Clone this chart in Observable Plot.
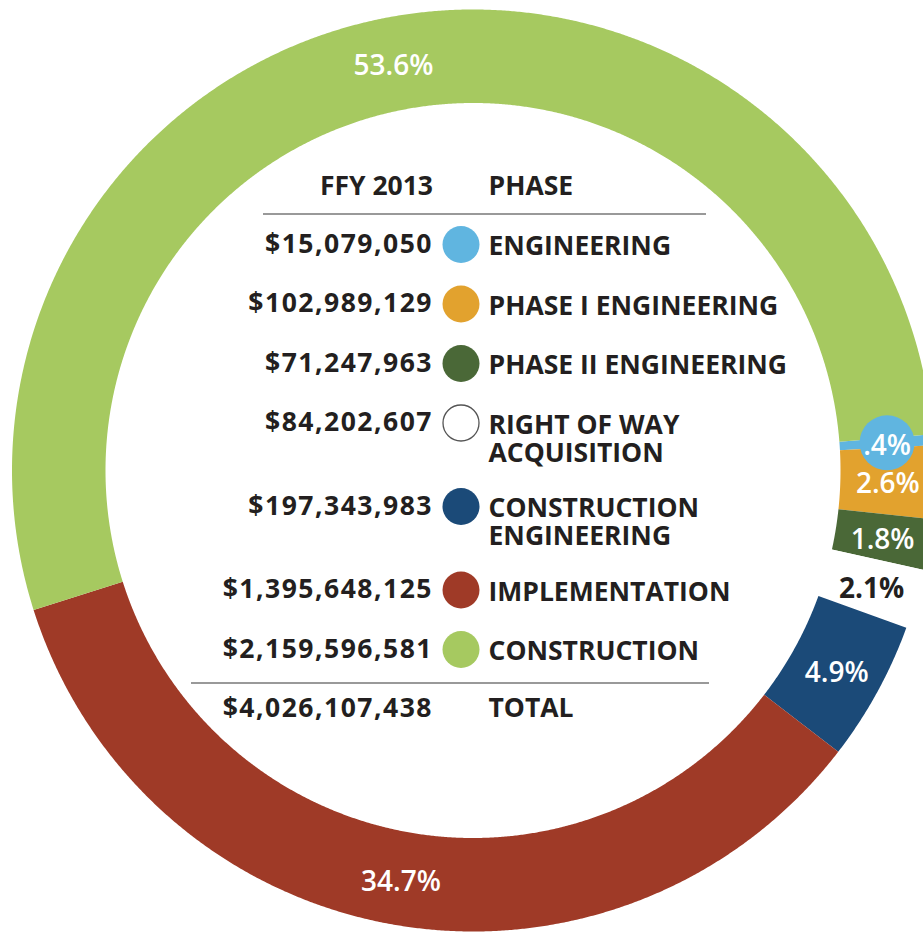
<!DOCTYPE html>
<html>
<head>
<meta charset="utf-8">
<script src="https://cdn.jsdelivr.net/npm/d3@7"></script>
<script src="https://cdn.jsdelivr.net/npm/@observablehq/plot@0.6"></script>
<style>
  html, body { margin: 0; padding: 0; background: #fff; overflow: hidden; }
  #chart svg { display: block; }
</style>
</head>
<body>
<div id="chart"></div>
<script>
// ---------- data ----------
const phases = [
  "ENGINEERING",
  "PHASE I ENGINEERING",
  "PHASE II ENGINEERING",
  "RIGHT OF WAY\nACQUISITION",
  "CONSTRUCTION\nENGINEERING",
  "IMPLEMENTATION",
  "CONSTRUCTION"
];
const amounts = [15079050, 102989129, 71247963, 84202607, 197343983, 1395648125, 2159596581];
const colors = ["#60b5e0", "#e2a22e", "#4a6837", "#ffffff", "#1b4a78", "#9f3a27", "#a6c960"];
const headerLabels = ["FFY 2013", "PHASE"];
const totalLabel = "TOTAL";

// ---------- layout ----------
const W = 923, H = 932;
const cx = 472.5, cy = 470, R = 461, R0 = 367.5, labelR = 415;
const startAngle = 85.5 * Math.PI / 180;
const fontFamily = "'Open Sans', sans-serif";
const ink = "#231f20";
const amountX = 432.5, swatchX = 460.5, nameX = 488;
const rowTop = 244, rowStep = 59.5, extraLine = 24, tableFont = 26.5;

const total = d3.sum(amounts);
const rows = phases.map((phase, i) => ({phase, amount: amounts[i], lines: phase.split("\n").length}));
let extra = 0;
rows.forEach((d, i) => { d.rowY = rowTop + rowStep * i + extraLine * extra; extra += d.lines - 1; });
const headerY = rowTop - 58;
const totalY = rowTop + rowStep * rows.length + extraLine * extra;

const arcs = d3.pie().sort(null).value(d => d.amount)
  .startAngle(startAngle).endAngle(startAngle + 2 * Math.PI)(rows);

const pt = (a, rad) => ({x: cx + rad * Math.sin(a), y: cy - rad * Math.cos(a)});
const polys = [];
arcs.forEach(a => {
  const n = Math.max(2, Math.ceil((a.endAngle - a.startAngle) / 0.004));
  for (let k = 0; k <= n; k++) {
    const t = a.startAngle + (a.endAngle - a.startAngle) * k / n;
    polys.push({phase: a.data.phase, ...pt(t, R)});
  }
  for (let k = n; k >= 0; k--) {
    const t = a.startAngle + (a.endAngle - a.startAngle) * k / n;
    polys.push({phase: a.data.phase, ...pt(t, R0)});
  }
});

const fmtPct = v => d3.format(".1%")(v).replace(/^0\./, ".");
const labels = arcs.map(a => {
  const m = (a.startAngle + a.endAngle) / 2;
  return {phase: a.data.phase, text: fmtPct(a.data.amount / total), ...pt(m, labelR)};
});
const isROW = d => d.phase === phases[3];
const callout = labels.filter(d => d.phase === phases[0]);
const fmtMoney = v => "$" + d3.format(",")(v);

const chart = Plot.plot({
  width: W,
  height: H,
  margin: 0,
  x: {domain: [0, W], range: [0, W], axis: null},
  y: {domain: [0, H], range: [0, H], axis: null},
  color: {domain: phases, range: colors},
  style: {fontFamily, background: "#fff"},
  marks: [
    Plot.line(polys, {x: "x", y: "y", z: "phase", fill: "phase", stroke: "none", curve: "linear"}),
    Plot.dot(callout, {x: "x", y: "y", r: 27.5, fill: "phase"}),
    Plot.text(labels.filter(d => !isROW(d)), {
      x: "x", y: "y", text: "text", fill: "#ffffff", dy: 3,
      fontSize: 28, fontWeight: 600
    }),
    Plot.text(labels.filter(isROW), {
      x: "x", y: "y", text: "text", fill: ink, dy: 3,
      fontSize: 28, fontWeight: 700
    }),
    // table header
    Plot.text([headerLabels[0]], {x: () => amountX, y: () => headerY, text: d => d, textAnchor: "end", fill: ink, fontSize: tableFont, fontWeight: 700}),
    Plot.text([headerLabels[1]], {x: () => nameX, y: () => headerY, text: d => d, textAnchor: "start", fill: ink, fontSize: tableFont, fontWeight: 700}),
    Plot.ruleY([headerY + 27.5], {x1: 263, x2: 706, stroke: "#777", strokeWidth: 1.5}),
    // rows
    Plot.text(rows, {
      x: () => amountX, y: "rowY", text: d => fmtMoney(d.amount),
      textAnchor: "end", fill: ink, fontSize: tableFont, fontWeight: 700
    }),
    Plot.dot(rows.filter(d => !isROW(d)), {x: () => swatchX, y: "rowY", r: 18.5, fill: "phase"}),
    Plot.dot(rows.filter(isROW), {x: () => swatchX, y: "rowY", r: 18, fill: "#fff", stroke: "#555", strokeWidth: 1.3}),
    Plot.text(rows, {
      x: () => nameX, y: "rowY", text: "phase", textAnchor: "start", lineAnchor: "top",
      dy: -0.36 * tableFont, lineHeight: 1.07,
      fill: ink, fontSize: tableFont, fontWeight: 700
    }),
    // total
    Plot.ruleY([totalY - 26], {x1: 191, x2: 709, stroke: "#777", strokeWidth: 1.5}),
    Plot.text([total], {x: () => amountX, y: () => totalY, text: d => fmtMoney(d), textAnchor: "end", fill: ink, fontSize: tableFont, fontWeight: 700}),
    Plot.text([totalLabel], {x: () => nameX, y: () => totalY, text: d => d, textAnchor: "start", fill: ink, fontSize: tableFont, fontWeight: 700})
  ]
});
// the original's figures are wider: loosen the dollar amounts
d3.select(chart).selectAll("text").filter(function() { return /^\$/.test(this.textContent); })
  .attr("letter-spacing", 1.5);
document.getElementById("chart").appendChild(chart);
</script>
</body>
</html>
